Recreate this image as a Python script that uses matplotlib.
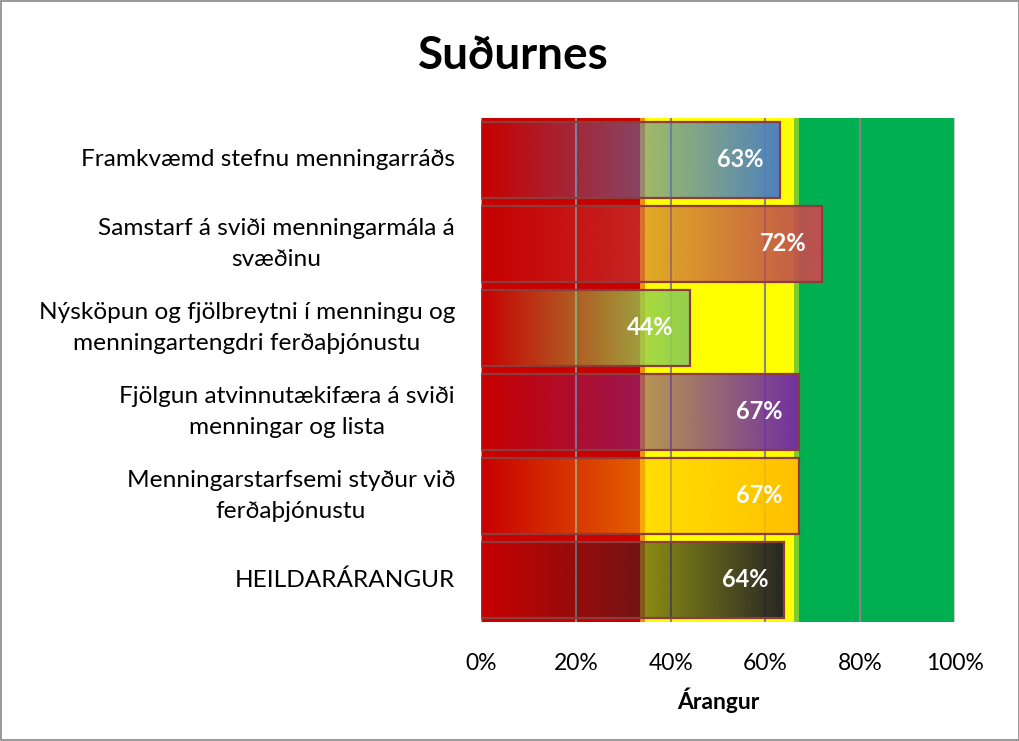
import numpy as np
import matplotlib
matplotlib.use("Agg")
import matplotlib.pyplot as plt
from matplotlib.patches import Rectangle
from matplotlib.transforms import blended_transform_factory, offset_copy

plt.rcParams['font.family'] = ['Lato', 'DejaVu Sans']

# gögn
categories = [
    "Framkvæmd stefnu menningarráðs",
    "Samstarf á sviði menningarmála á\nsvæðinu",
    "Nýsköpun og fjölbreytni í menningu og\nmenningartengdri ferðaþjónustu",
    "Fjölgun atvinnutækifæra á sviði\nmenningar og lista",
    "Menningarstarfsemi styður við\nferðaþjónustu",
    "HEILDARÁRANGUR",
]
values = [63, 72, 44, 67, 67, 64]
bar_colors = ["#4F81BD", "#C0504D", "#92D050", "#7030A0", "#FFC000", "#262626"]

# bakgrunnssvæði (rautt / gult / grænt)
zone_edges = [0, 34, 66.5, 100]
zone_colors = ["#C80000", "#FFFF00", "#00B050"]
x_ticks = [0, 20, 40, 60, 80, 100]

fig = plt.figure(figsize=(10.2, 7.41), dpi=100)
ax = fig.add_axes([0.4716, 0.1606, 0.4647, 0.6802])

for i, c in enumerate(zone_colors):
    ax.axvspan(zone_edges[i], zone_edges[i + 1], color=c, lw=0, zorder=0)
# mjó skil milli svæða
ax.axvspan(zone_edges[1] - 0.5, zone_edges[1] + 0.5, color="#F09010", lw=0, zorder=0.5)
ax.axvspan(zone_edges[2] - 0.5, zone_edges[2] + 0.5, color="#7ACC30", lw=0, zorder=0.5)

for t in x_ticks[1:-1]:
    ax.axvline(t, color="#868686", lw=1.5, zorder=1)
ax.axvline(0, color="#A0A0A0", lw=1.5, zorder=1)
ax.axvline(100, color="#C8C8C8", lw=1.5, zorder=1)

n = len(categories)
h = 0.9
lbl_tr = offset_copy(blended_transform_factory(ax.transAxes, ax.transData),
                     fig=fig, x=-26, y=0, units='dots')
for i, (v, col) in enumerate(zip(values, bar_colors)):
    y = n - 1 - i
    rgb = np.array(matplotlib.colors.to_rgb(col))
    grad = np.zeros((1, 256, 4))
    grad[0, :, :3] = rgb
    grad[0, :, 3] = np.linspace(0, 1, 256)
    ax.imshow(grad, extent=(0, v, y - h / 2, y + h / 2), aspect='auto',
              interpolation='bilinear', zorder=2)
    ax.add_patch(Rectangle((0, y - h / 2), v, h, fill=False,
                           edgecolor="#8E3B3B", lw=1.6, zorder=3))
    ax.text(v - 3.4, y, f"{v}%", ha='right', va='center', color='white',
            fontsize=17, fontweight='bold', zorder=4)
    # flokkaheiti
    ax.text(0, y, categories[i], transform=lbl_tr, ha='right', va='center',
            multialignment='center', fontsize=17.6, linespacing=1.55)

ax.set_xlim(0, 100)
ax.set_ylim(-0.5, n - 0.5)
ax.set_aspect('auto')
ax.set_yticks([])
ax.set_xticks(x_ticks)
ax.set_xticklabels([f"{t}%" for t in x_ticks], fontsize=16.5)
ax.tick_params(axis='x', length=0, pad=22)
for s in ax.spines.values():
    s.set_visible(False)
ax.set_xlabel("Árangur", fontsize=16.5, fontweight='bold', labelpad=10)

fig.text(0.503, 0.925, "Suðurnes", ha='center', va='center',
         fontsize=33, fontweight='bold')

fig.patches.append(Rectangle((0.001, 0.001), 0.998, 0.998, transform=fig.transFigure,
                             fill=False, edgecolor="#888888", lw=1.2))

fig.savefig("out.png", dpi=100)
